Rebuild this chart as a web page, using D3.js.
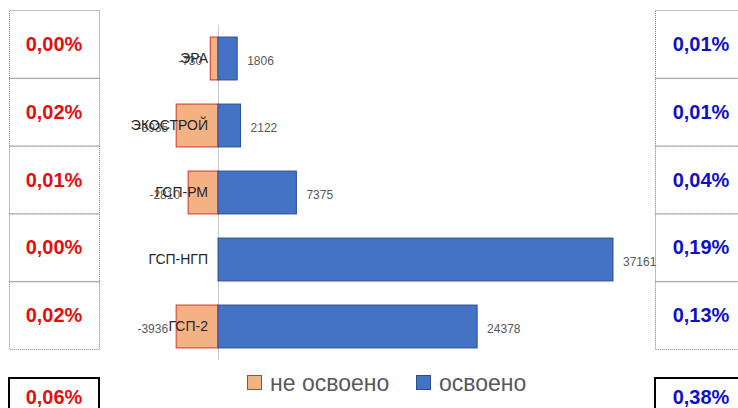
<!DOCTYPE html>
<html>
<head>
<meta charset="utf-8">
<script src="https://cdn.jsdelivr.net/npm/d3@7"></script>
<style>
  body { margin: 0; background: #fff; }
  svg { display: block; font-family: "Liberation Sans", Arial, sans-serif; }
</style>
</head>
<body>
<div id="chart"></div>
<script>
// Data
const categories = ['ЭРА', 'ЭКОСТРОЙ', 'ГСП-РМ', 'ГСП-НГП', 'ГСП-2'];
const notDone = [-730, -3935, -2810, 0, -3936];
const done = [1806, 2122, 7375, 37161, 24378];
const pctNotDone = ['0,00%', '0,02%', '0,01%', '0,00%', '0,02%'];
const pctDone = ['0,01%', '0,01%', '0,04%', '0,19%', '0,13%'];
const totalNotDone = '0,06%';
const totalDone = '0,38%';
const seriesNames = ['не освоено', 'освоено'];

const width = 738, height = 408;

let svg = d3.select('#chart')
  .append('svg')
    .attr('width', width)
    .attr('height', height);

// Scales
let x = d3.scaleLinear()
  .domain([0, 37161])
  .range([218, 613]);

let y = d3.scaleBand()
  .domain(categories)
  .range([25, 360])
  .paddingInner(0.36)
  .paddingOuter(0.18);

let rows = d3.scaleBand()
  .domain(categories)
  .range([10, 349]);

// Side boxes with percentages
function sideBoxes(x0, x1, texts, total, color) {
  let g = svg.append('g');
  g.selectAll('rect.cell')
    .data(categories)
    .enter().append('rect')
      .attr('class', 'cell')
      .attr('x', x0 + 0.5)
      .attr('y', d => rows(d) + 0.5)
      .attr('width', x1 - x0)
      .attr('height', rows.bandwidth())
      .attr('fill', 'none')
      .attr('stroke', '#7f7f7f')
      .attr('stroke-dasharray', '1,1');
  g.selectAll('text.pct')
    .data(categories)
    .enter().append('text')
      .attr('class', 'pct')
      .attr('x', (x0 + x1) / 2)
      .attr('y', d => rows(d) + rows.bandwidth() / 2)
      .attr('dy', '0.35em')
      .attr('text-anchor', 'middle')
      .attr('font-size', 20)
      .attr('font-weight', 'bold')
      .attr('fill', color)
      .text((d, i) => texts[i]);
  // total box
  g.append('rect')
    .attr('x', x0)
    .attr('y', 378)
    .attr('width', x1 - x0)
    .attr('height', 40)
    .attr('fill', 'none')
    .attr('stroke', '#000')
    .attr('stroke-width', 2);
  g.append('text')
    .attr('x', (x0 + x1) / 2)
    .attr('y', 397)
    .attr('dy', '0.35em')
    .attr('text-anchor', 'middle')
    .attr('font-size', 20)
    .attr('font-weight', 'bold')
    .attr('fill', color)
    .text(total);
}
sideBoxes(9, 99, pctNotDone, totalNotDone, '#e01010');
sideBoxes(655, 747, pctDone, totalDone, '#1010c8');

// Zero line
svg.append('line')
  .attr('x1', x(0) + 0.5)
  .attr('x2', x(0) + 0.5)
  .attr('y1', 25)
  .attr('y2', 360)
  .attr('stroke', '#c8c8c8')
  .attr('stroke-width', 1);

// Bars - not done
svg.selectAll('rect.neg')
  .data(categories)
  .enter().append('rect')
    .attr('class', 'neg')
    .attr('x', (d, i) => x(notDone[i]))
    .attr('y', d => y(d))
    .attr('width', (d, i) => x(0) - x(notDone[i]))
    .attr('height', y.bandwidth())
    .attr('fill', '#F4B183')
    .attr('stroke', (d, i) => notDone[i] ? '#d0352b' : 'none')
    .attr('stroke-width', 1);

// Bars - done
svg.selectAll('rect.pos')
  .data(categories)
  .enter().append('rect')
    .attr('class', 'pos')
    .attr('x', x(0))
    .attr('y', d => y(d))
    .attr('width', (d, i) => x(done[i]) - x(0))
    .attr('height', y.bandwidth())
    .attr('fill', '#4472C4')
    .attr('stroke', '#2F4F8A')
    .attr('stroke-width', 1);

// Value labels
svg.selectAll('text.neglabel')
  .data(categories.filter((d, i) => notDone[i] !== 0))
  .enter().append('text')
    .attr('class', 'neglabel')
    .attr('x', d => x(notDone[categories.indexOf(d)]) - 8)
    .attr('y', d => y(d) + y.bandwidth() / 2 + 2)
    .attr('dy', '0.35em')
    .attr('text-anchor', 'end')
    .attr('font-size', 12)
    .attr('fill', '#595959')
    .text(d => notDone[categories.indexOf(d)]);

svg.selectAll('text.poslabel')
  .data(categories)
  .enter().append('text')
    .attr('class', 'poslabel')
    .attr('x', (d, i) => x(done[i]) + 10)
    .attr('y', d => y(d) + y.bandwidth() / 2 + 2)
    .attr('dy', '0.35em')
    .attr('font-size', 12)
    .attr('fill', '#595959')
    .text((d, i) => done[i]);

// Category labels
svg.selectAll('text.cat')
  .data(categories)
  .enter().append('text')
    .attr('class', 'cat')
    .attr('x', 208)
    .attr('y', d => y(d) + y.bandwidth() / 2)
    .attr('dy', '0.35em')
    .attr('text-anchor', 'end')
    .attr('font-size', 14)
    .attr('fill', '#262626')
    .text(d => d);

// Legend
let legendX = [247, 416];
let legendFill = ['#F4B183', '#4472C4'];
let legendStroke = ['#d0352b', '#2F4F8A'];
let legend = svg.append('g').attr('class', 'legend');
seriesNames.forEach((name, i) => {
  legend.append('rect')
    .attr('x', legendX[i] + 0.5)
    .attr('y', 375.5)
    .attr('width', 14)
    .attr('height', 14)
    .attr('fill', legendFill[i])
    .attr('stroke', legendStroke[i]);
  legend.append('text')
    .attr('x', legendX[i] + 23)
    .attr('y', 383)
    .attr('dy', '0.35em')
    .attr('font-size', 23)
    .attr('fill', '#595959')
    .text(name);
});
</script>
</body>
</html>
